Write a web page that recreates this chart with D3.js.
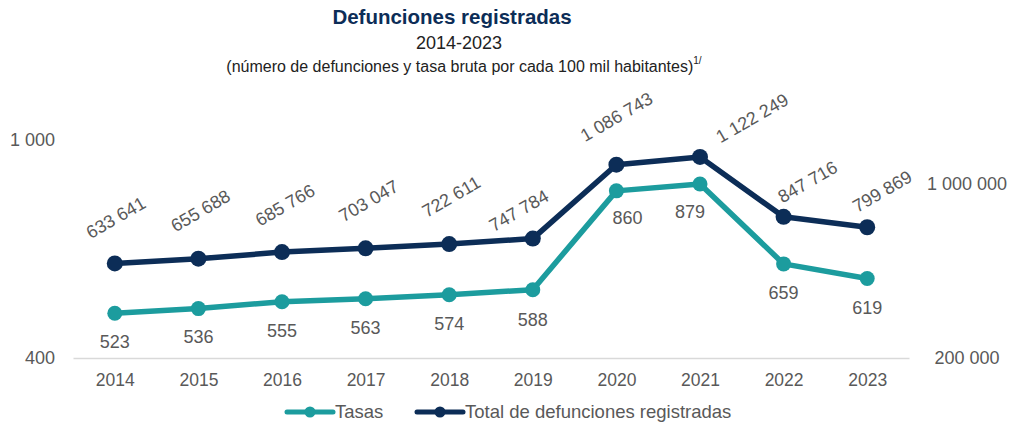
<!DOCTYPE html>
<html>
<head>
<meta charset="utf-8">
<script src="https://cdn.jsdelivr.net/npm/d3@7"></script>
<style>
  html, body { margin: 0; padding: 0; background: #fff; }
  svg { display: block; font-family: "Liberation Sans", Arial, sans-serif; }
</style>
</head>
<body>
<svg id="chart" width="1024" height="438"></svg>
<script>
const years = ["2014","2015","2016","2017","2018","2019","2020","2021","2022","2023"];
const tasas = [523, 536, 555, 563, 574, 588, 860, 879, 659, 619];
const totales = [633641, 655688, 685766, 703047, 722611, 747784, 1086743, 1122249, 847716, 799869];
const leftTicks = [400, 1000];
const rightTicks = [200000, 1000000];
const seriesNames = ["Tasas", "Total de defunciones registradas"];
const titleText = "Defunciones registradas";
const periodText = "2014-2023";
const subtitleText = "(número de defunciones y tasa bruta por cada 100 mil habitantes)";
const noteMark = "1/";

// label placement tweaks (layout only)
const totalLabelShift = [[1,-46],[2,-48],[3,-47],[3,-47.5],[2,-47.5],[-14,-28],[0,-48],[52,-39],[24,-35],[15,-36]];
const tasaLabelShift = [[0,28],[0,28.5],[0,29],[0,29],[0,28.5],[0,30],[11,27],[-10,28],[0,29],[0,29.5]];

const NAVY = "#0c2d57";
const TEAL = "#1c9c9e";
const GRAY = "#595959";

const loc = d3.formatLocale({decimal: ".", thousands: " ", grouping: [3], currency: ["", ""]});
const fmt = loc.format(",d");

const svg = d3.select("#chart");

const x = d3.scalePoint().domain(years).range([73, 909]).padding(0.5);
const yL = d3.scaleLinear().domain([400, 1000]).range([358, 140]);
const yR = d3.scaleLinear().domain([200000, 1200000]).range([358, 140]);

// Titles
svg.append("text").attr("x", 452).attr("y", 24).attr("text-anchor", "middle")
  .attr("font-size", 20.5).attr("font-weight", "bold").attr("fill", NAVY).text(titleText);
svg.append("text").attr("x", 459).attr("y", 49).attr("text-anchor", "middle")
  .attr("font-size", 18).attr("fill", "#222").text(periodText);
const sub = svg.append("text").attr("x", 464).attr("y", 72).attr("text-anchor", "middle")
  .attr("font-size", 16).attr("fill", "#222");
sub.append("tspan").text(subtitleText);
sub.append("tspan").attr("font-size", 10).attr("dy", -8).text(noteMark);

// X axis
const xAxis = svg.append("g").attr("transform", "translate(0,358)")
  .call(d3.axisBottom(x).tickSize(0).tickSizeOuter(0).tickPadding(16));
xAxis.select(".domain").attr("stroke", "#d9d9d9").attr("stroke-width", 1.5);
xAxis.selectAll("text").attr("font-size", 17.5).attr("fill", GRAY)
  .attr("font-family", "'Liberation Sans', Arial, sans-serif");

// Left axis
const lAxis = svg.append("g").attr("transform", "translate(73,0)")
  .call(d3.axisLeft(yL).tickValues(leftTicks).tickSize(0).tickPadding(18).tickFormat(fmt));
lAxis.select(".domain").remove();
lAxis.selectAll("text").attr("font-size", 18).attr("fill", GRAY)
  .attr("font-family", "'Liberation Sans', Arial, sans-serif");

// Right axis
const rAxis = svg.append("g").attr("transform", "translate(909,0)")
  .call(d3.axisRight(yR).tickValues(rightTicks).tickSize(0).tickPadding(58).tickFormat(fmt));
rAxis.select(".domain").remove();
rAxis.selectAll("text").attr("font-size", 18).attr("fill", GRAY).attr("text-anchor", "middle")
  .attr("font-family", "'Liberation Sans', Arial, sans-serif");

// Lines
const lineTot = d3.line().x((d, i) => x(years[i])).y(d => yR(d));
const lineTasa = d3.line().x((d, i) => x(years[i])).y(d => yL(d));

svg.append("path").datum(tasas).attr("d", lineTasa).attr("fill", "none")
  .attr("stroke", TEAL).attr("stroke-width", 5.5).attr("stroke-linejoin", "round");
svg.append("path").datum(totales).attr("d", lineTot).attr("fill", "none")
  .attr("stroke", NAVY).attr("stroke-width", 5.5).attr("stroke-linejoin", "round");

svg.selectAll(".dotT").data(tasas).join("circle")
  .attr("cx", (d, i) => x(years[i])).attr("cy", d => yL(d)).attr("r", 7.5).attr("fill", TEAL);
svg.selectAll(".dotN").data(totales).join("circle")
  .attr("cx", (d, i) => x(years[i])).attr("cy", d => yR(d)).attr("r", 8).attr("fill", NAVY);

// Labels: tasas
svg.append("g").selectAll("text").data(tasas).join("text")
  .attr("x", (d, i) => x(years[i]) + tasaLabelShift[i][0])
  .attr("y", (d, i) => yL(d) + tasaLabelShift[i][1])
  .attr("dy", "0.35em").attr("text-anchor", "middle")
  .attr("font-size", 18).attr("fill", GRAY).text(d => fmt(d));

// Labels: totals (rotated)
svg.append("g").selectAll("text").data(totales).join("text")
  .attr("transform", (d, i) => {
    const cx = x(years[i]) + totalLabelShift[i][0];
    const cy = yR(d) + totalLabelShift[i][1];
    return `translate(${cx},${cy}) rotate(-30)`;
  })
  .attr("dy", "0.35em").attr("text-anchor", "middle")
  .attr("font-size", 18).attr("fill", GRAY).text(d => fmt(d));

// Legend
const legend = svg.append("g");
const items = [
  {name: seriesNames[0], color: TEAL, x0: 287},
  {name: seriesNames[1], color: NAVY, x0: 417}
];
items.forEach(it => {
  legend.append("line").attr("x1", it.x0).attr("x2", it.x0 + 46).attr("y1", 412).attr("y2", 412)
    .attr("stroke", it.color).attr("stroke-width", 5).attr("stroke-linecap", "round");
  legend.append("circle").attr("cx", it.x0 + 23).attr("cy", 412).attr("r", 5.5).attr("fill", it.color);
  legend.append("text").attr("x", it.x0 + 48).attr("y", 418).attr("font-size", 18.5)
    .attr("fill", GRAY).text(it.name);
});
</script>
</body>
</html>
